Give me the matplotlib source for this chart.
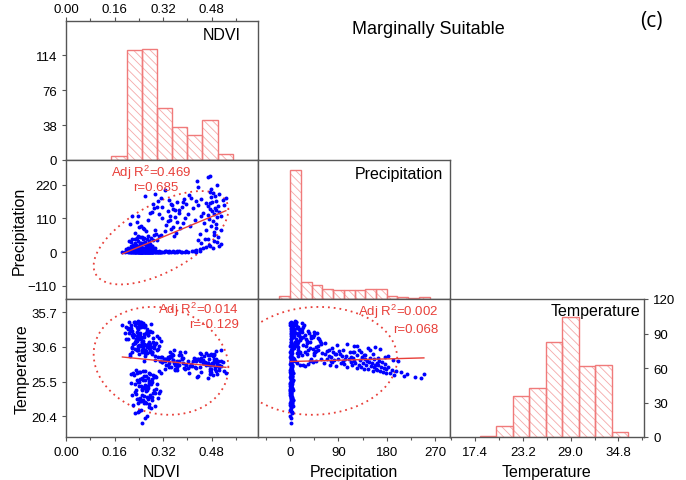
import numpy as np
import matplotlib
matplotlib.use("Agg")
import matplotlib.pyplot as plt
from matplotlib.ticker import AutoMinorLocator, FormatStrFormatter

plt.rcParams['font.family'] = ['Liberation Sans', 'DejaVu Sans']
plt.rcParams['hatch.linewidth'] = 0.6

# ---- histogram data ----
ndvi_edges = [0.15, 0.20, 0.25, 0.30, 0.35, 0.40, 0.45, 0.50, 0.55]
ndvi_counts = [4, 119, 121, 57, 36, 27, 43, 7]

precip_edges = [-20, 0, 20, 40, 60, 80, 100, 120, 140, 160, 180, 200, 220, 240, 260]
precip_counts = [6, 234, 31, 25, 18, 16, 16, 17, 18, 18, 6, 4, 2, 3]

temp_edges = [18, 20, 22, 24, 26, 28, 30, 32, 34, 36]
temp_counts = [1, 10, 36, 43, 83, 104, 62, 63, 4]

# ---- scatter data, one entry per sample (ndvi, precipitation, temperature) ----
# no rain, cool sites
dry_cool_ndvi = [0.252, 0.268, 0.237, 0.281, 0.229, 0.274, 0.246, 0.259, 0.293, 0.241,
                 0.263, 0.248, 0.222, 0.271, 0.285, 0.236, 0.277, 0.254, 0.302, 0.231,
                 0.266, 0.243, 0.288, 0.257, 0.272, 0.295, 0.233, 0.261, 0.249, 0.239,
                 0.276, 0.264, 0.283, 0.218, 0.251, 0.306, 0.244, 0.270, 0.258, 0.291,
                 0.247, 0.232, 0.279, 0.262, 0.240, 0.268, 0.255, 0.309, 0.226, 0.265,
                 0.284, 0.245, 0.256, 0.273, 0.297, 0.235, 0.260, 0.250, 0.280, 0.242,
                 0.215, 0.270, 0.261, 0.301, 0.253, 0.228, 0.282, 0.238, 0.267, 0.275,
                 0.289, 0.224, 0.249, 0.312, 0.243, 0.264, 0.278, 0.234, 0.271, 0.257,
                 0.213, 0.298, 0.241, 0.262, 0.286, 0.221, 0.254, 0.292, 0.273, 0.231]
dry_cool_precip = [1.2, 0.4, 2.6, 0.9, 3.8, 1.5, 0.2, 2.1, 4.5, 0.7,
                   2.9, 1.1, 0.5, 3.3, 1.8, 0.3, 2.4, 5.2, 1.0, 0.6,
                   3.6, 1.4, 0.8, 2.2, 4.1, 0.1, 1.9, 2.7, 0.5, 3.0,
                   1.6, 0.9, 4.8, 2.3, 0.4, 1.3, 3.4, 0.7, 2.0, 5.6,
                   0.2, 2.8, 1.1, 3.9, 0.6, 1.7, 4.3, 0.3, 2.5, 1.2,
                   3.1, 0.8, 1.9, 0.4, 2.6, 4.6, 1.0, 0.5, 3.5, 2.2,
                   0.9, 1.4, 5.0, 0.3, 2.9, 1.6, 0.7, 3.7, 2.0, 1.1,
                   4.2, 0.6, 2.4, 1.3, 0.2, 3.2, 1.8, 5.4, 0.8, 2.7,
                   1.5, 0.4, 3.0, 2.1, 0.9, 4.4, 1.2, 0.6, 2.3, 3.6]
dry_cool_temp = [19.4, 20.5, 21.1, 21.6, 20.9, 21.8, 21.4, 20.2, 21.9, 21.2,
                 22.3, 22.6, 22.1, 22.9, 23.2, 22.4, 23.5, 22.8, 23.1, 23.7,
                 23.3, 22.7, 23.9, 23.4, 22.2, 23.8, 23.0, 22.5, 23.6, 22.9,
                 23.2, 24.1, 22.8, 23.5, 24.4, 23.9, 23.1, 24.6, 22.4, 24.2,
                 24.8, 24.3, 25.1, 24.5, 25.4, 24.9, 25.7, 24.1, 25.2, 24.6,
                 25.5, 25.9, 24.7, 25.3, 24.4, 25.8, 25.0, 24.2, 25.6, 24.9,
                 25.3, 24.8, 25.7, 25.1, 24.5, 24.0, 25.9, 25.4, 24.3, 25.6,
                 26.2, 26.5, 26.1, 26.7, 26.9, 26.3, 26.6, 26.8, 26.0, 26.4,
                 26.6, 26.2, 26.9, 27.1, 26.5, 26.8, 27.0, 26.3, 26.7, 27.2]

# no rain, greener sites
dry_mid_ndvi = [0.318, 0.335, 0.352, 0.304, 0.367, 0.341, 0.382, 0.326, 0.397, 0.311,
                0.358, 0.414, 0.346, 0.373, 0.429, 0.322, 0.391, 0.338, 0.365, 0.442,
                0.308, 0.356, 0.403, 0.331, 0.378]
dry_mid_precip = [1.4, 0.6, 2.8, 0.3, 3.5, 1.9, 0.8, 2.2, 4.0, 1.1,
                  0.5, 2.6, 1.7, 3.2, 0.9, 2.0, 1.3, 4.6, 0.4, 2.4,
                  3.0, 1.5, 0.7, 2.9, 1.8]
dry_mid_temp = [28.4, 27.9, 28.7, 29.1, 27.6, 28.2, 28.9, 27.4, 28.0, 28.6,
                27.2, 27.8, 29.3, 28.5, 27.5, 28.8, 27.3, 29.0, 28.1, 27.7,
                27.0, 28.3, 28.6, 27.9, 29.4]

# no rain, warm sites
dry_warm_ndvi = [0.212, 0.236, 0.254, 0.198, 0.227, 0.263, 0.245, 0.218, 0.272, 0.231,
                 0.186, 0.249, 0.221, 0.258, 0.239, 0.205, 0.268, 0.226, 0.243, 0.284,
                 0.215, 0.252, 0.233, 0.194, 0.261, 0.241, 0.277, 0.224, 0.247, 0.209]
dry_warm_precip = [0.8, 2.1, 0.4, 3.3, 1.5, 2.7, 0.6, 1.9, 3.8, 1.2,
                   0.3, 2.4, 1.0, 3.1, 0.7, 1.7, 2.9, 0.5, 4.2, 1.4,
                   2.2, 0.9, 3.6, 1.1, 0.2, 2.6, 1.6, 3.0, 0.8, 1.3]
dry_warm_temp = [29.3, 30.1, 30.8, 33.6, 31.4, 29.7, 32.2, 32.9, 30.4, 31.7,
                 33.9, 29.9, 32.5, 31.1, 33.2, 31.8, 30.6, 34.1, 32.0, 29.5,
                 33.4, 31.3, 30.2, 32.7, 29.8, 33.7, 31.0, 32.3, 30.9, 34.2]

# light rain, warm sites
light_ndvi = [0.228, 0.245, 0.263, 0.211, 0.252, 0.237, 0.276, 0.219, 0.258, 0.241,
              0.199, 0.268, 0.233, 0.284, 0.247, 0.222, 0.261, 0.239, 0.291, 0.214,
              0.255, 0.231, 0.272, 0.205, 0.249, 0.266, 0.226, 0.243, 0.288, 0.235,
              0.258, 0.217, 0.279, 0.246, 0.203, 0.262, 0.238, 0.251, 0.295, 0.224,
              0.269, 0.242, 0.213, 0.257, 0.234,
              0.248, 0.271, 0.226, 0.259, 0.236, 0.283, 0.244, 0.215, 0.265, 0.301,
              0.232, 0.254, 0.278, 0.209, 0.246, 0.287, 0.239, 0.262, 0.221, 0.274,
              0.253, 0.281, 0.237, 0.266, 0.298, 0.244, 0.229, 0.312, 0.258, 0.271,
              0.218, 0.289, 0.249, 0.305, 0.234]
light_precip = [5.2, 8.4, 11.7, 6.3, 14.8, 9.1, 17.5, 7.6, 12.9, 4.8,
                10.3, 15.6, 6.9, 19.2, 8.8, 13.4, 5.7, 16.3, 9.8, 11.1,
                7.2, 18.4, 4.5, 12.2, 14.1, 6.6, 10.8, 17.9, 8.1, 13.7,
                5.9, 15.1, 9.4, 19.7, 7.9, 11.9, 16.8, 6.1, 12.6, 10.1,
                14.4, 8.6, 18.8, 5.4, 13.1,
                23.4, 27.8, 31.5, 25.2, 36.1, 21.7, 29.4, 33.8, 24.6, 38.2,
                22.5, 30.7, 26.9, 35.3, 28.6, 39.4, 21.3, 32.6, 24.1, 37.0,
                42.8, 47.5, 53.1, 44.6, 58.2, 49.3, 41.7, 55.6, 46.2, 51.4,
                43.9, 57.0, 48.7, 52.5, 45.1]
light_temp = [33.8, 34.2, 32.6, 33.1, 31.4, 34.4, 32.9, 30.5, 33.5, 34.0,
              31.8, 33.3, 32.2, 29.9, 34.3, 31.1, 33.7, 32.4, 30.8, 33.9,
              34.1, 31.6, 32.8, 33.4, 30.2, 33.0, 34.2, 32.0, 31.3, 33.6,
              32.5, 30.6, 34.0, 31.9, 33.2, 29.7, 32.7, 33.8, 31.0, 34.3,
              32.3, 30.9, 33.1, 32.1, 31.5,
              33.6, 32.4, 31.2, 33.9, 30.4, 32.8, 31.7, 33.0, 30.9, 32.2,
              34.1, 31.5, 29.8, 32.6, 30.7, 31.9, 33.3, 30.1, 32.0, 31.3,
              32.1, 30.6, 31.8, 29.7, 31.2, 32.6, 30.3, 31.5, 29.9, 30.8,
              32.4, 31.0, 30.0, 31.9, 32.8]

# light rain, green sites
green_light_ndvi = [0.428, 0.452, 0.476, 0.441, 0.497, 0.463, 0.512, 0.435, 0.484, 0.458,
                    0.471, 0.446, 0.503, 0.422, 0.489]
green_light_precip = [6.8, 12.4, 21.7, 9.5, 33.2, 16.1, 27.9, 38.6, 14.3, 42.5,
                      24.8, 31.4, 18.6, 4.9, 36.7]
green_light_temp = [28.9, 28.3, 29.4, 28.6, 28.1, 29.7, 27.8, 28.8, 29.2, 28.4,
                    27.9, 29.5, 28.0, 29.0, 28.5]

# wetter, sparse vegetation
wet_sparse_ndvi = [0.226, 0.254, 0.212, 0.271, 0.238, 0.295, 0.247, 0.282, 0.234, 0.318,
                   0.291, 0.265, 0.241, 0.305, 0.288, 0.336, 0.216, 0.352, 0.258, 0.302,
                   0.276, 0.312, 0.348, 0.294, 0.371, 0.259, 0.327, 0.385, 0.301, 0.342]
wet_sparse_precip = [64.2, 78.5, 92.1, 105.7, 118.3, 71.6, 86.9, 132.4, 97.8, 112.5,
                     145.2, 68.3, 83.7, 124.6, 158.1, 101.4, 116.9, 139.8, 75.2, 167.3,
                     128.5, 176.2, 154.8, 191.3, 137.6, 182.4, 201.7, 163.9, 148.2, 119.5]
wet_sparse_temp = [31.2, 30.4, 29.6, 31.1, 30.8, 29.3, 30.9, 29.8, 30.2, 29.1,
                   30.5, 30.0, 29.5, 30.7, 30.6, 28.8, 29.9, 29.4, 28.6, 30.3,
                   30.2, 29.1, 29.6, 28.7, 29.4, 29.3, 28.5, 29.0, 30.1, 29.8]

# wetter, green sites
wet_green_ndvi = [0.468, 0.502, 0.356, 0.489, 0.441,
                  0.364, 0.487, 0.327, 0.511, 0.462, 0.345, 0.495, 0.376,
                  0.352, 0.478, 0.409, 0.331, 0.493, 0.386, 0.455, 0.367,
                  0.484, 0.342, 0.426, 0.471, 0.391, 0.498, 0.358, 0.446, 0.512,
                  0.467, 0.403, 0.489, 0.374, 0.452, 0.505, 0.337, 0.481, 0.361, 0.494,
                  0.476, 0.418, 0.491, 0.318, 0.383, 0.502, 0.469, 0.521, 0.434, 0.346, 0.397, 0.475,
                  0.463, 0.365, 0.482, 0.429, 0.495, 0.338, 0.518, 0.446, 0.389, 0.413, 0.527, 0.478,
                  0.492, 0.406, 0.503, 0.485, 0.474,
                  0.479, 0.436, 0.497,
                  0.431,
                  0.468, 0.476]
wet_green_precip = [44.5, 48.9, 52.3, 56.8, 59.1,
                    62.4, 65.7, 68.2, 71.9, 73.5, 76.8, 78.1, 79.6,
                    81.3, 84.7, 86.2, 89.5, 91.8, 94.3, 96.7, 98.9,
                    101.2, 103.8, 106.4, 109.1, 111.7, 113.5, 115.9, 117.2, 119.6,
                    121.4, 123.9, 125.3, 127.8, 129.5, 131.6, 133.2, 135.8, 137.4, 139.1,
                    141.3, 142.8, 144.6, 146.2, 148.9, 150.5, 152.1, 153.7, 155.4, 156.9, 158.3, 159.6,
                    161.2, 162.7, 164.5, 166.1, 168.4, 170.2, 171.8, 173.5, 175.1, 176.6, 178.3, 179.4,
                    182.6, 186.3, 189.7, 193.2, 197.5,
                    205.8, 211.4, 217.9,
                    232.6,
                    244.1, 249.3]
wet_green_temp = [29.4, 28.6, 30.1, 28.9, 29.7,
                  28.3, 29.5, 28.8, 30.2, 27.9, 29.1, 28.4, 29.8,
                  28.7, 29.6, 27.8, 28.9, 30.0, 28.2, 29.3, 28.5,
                  28.1, 29.2, 27.6, 28.8, 29.9, 28.4, 27.9, 29.0, 28.6,
                  28.3, 27.5, 29.4, 28.0, 28.7, 27.7, 29.1, 28.2, 27.4, 28.9,
                  27.9, 28.6, 27.3, 28.4, 29.0, 27.8, 28.2, 27.1, 28.8, 27.6, 28.0, 27.4,
                  28.3, 27.2, 27.9, 28.6, 27.0, 27.7, 28.4, 26.9, 27.5, 28.1, 26.8, 27.3,
                  27.6, 26.7, 27.2, 26.5, 27.0,
                  26.9, 26.3, 26.6,
                  26.2,
                  26.1, 26.6]

ndvi = np.concatenate([dry_cool_ndvi, dry_mid_ndvi, dry_warm_ndvi, light_ndvi,
                       green_light_ndvi, wet_sparse_ndvi, wet_green_ndvi])
precip = np.concatenate([dry_cool_precip, dry_mid_precip, dry_warm_precip, light_precip,
                         green_light_precip, wet_sparse_precip, wet_green_precip])
temp = np.concatenate([dry_cool_temp, dry_mid_temp, dry_warm_temp, light_temp,
                       green_light_temp, wet_sparse_temp, wet_green_temp])

RED = '#e8403a'
EDGE = '#f07a7a'
HATCH = '#f5a9a9'
SPINE = '#555555'

ndvi_lim = (0, 0.633)
precip_lim = (-60, 298)
temp_lim = (17.36, 37.65)


def style(ax):
    for s in ax.spines.values():
        s.set_color(SPINE)
        s.set_linewidth(1)
    ax.tick_params(direction='out', length=3, width=0.8, color=SPINE, labelsize=9.5)
    ax.tick_params(which='minor', direction='out', length=2, width=0.8, color=SPINE)


def draw_hist(ax, edges, counts):
    edges = np.array(edges)
    w = edges[1] - edges[0]
    ax.bar(edges[:-1], counts, width=w, align='edge', color='white',
           edgecolor=HATCH, hatch='\\\\\\\\', linewidth=0)
    ax.bar(edges[:-1], counts, width=w, align='edge', fill=False,
           edgecolor=EDGE, linewidth=1)


def draw_scatter(ax, x, y):
    ax.scatter(x, y, s=8, color='blue', linewidths=0, zorder=3)
    slope, icpt = np.polyfit(x, y, 1)
    xs = np.array([x.min(), x.max()])
    ax.plot(xs, slope * xs + icpt, color=RED, lw=1, zorder=4)
    # 95% confidence ellipse
    cov = np.cov(x, y)
    L = np.linalg.cholesky(cov)
    t = np.linspace(0, 2 * np.pi, 200)
    k = np.sqrt(5.991)
    pts = k * L @ np.vstack([np.cos(t), np.sin(t)])
    ax.plot(x.mean() + pts[0], y.mean() + pts[1], color=RED, lw=1.3,
            ls=(0, (1, 2.2)), zorder=2)


fig = plt.figure(figsize=(6.86, 4.81), dpi=100)

col_l = [66 / 686, 258 / 686, 450 / 686]
col_w = [192 / 686, 192 / 686, 194 / 686]
row_b = [1 - 161 / 481, 1 - 300 / 481, 1 - 438 / 481]
row_h = [139 / 481, 139 / 481, 138 / 481]

ax_n = fig.add_axes([col_l[0], row_b[0], col_w[0], row_h[0]])
ax_np = fig.add_axes([col_l[0], row_b[1], col_w[0], row_h[1]])
ax_p = fig.add_axes([col_l[1], row_b[1], col_w[1], row_h[1]])
ax_nt = fig.add_axes([col_l[0], row_b[2], col_w[0], row_h[2]])
ax_pt = fig.add_axes([col_l[1], row_b[2], col_w[1], row_h[2]])
ax_t = fig.add_axes([col_l[2], row_b[2], col_w[2], row_h[2]])

for ax in [ax_n, ax_np, ax_p, ax_nt, ax_pt, ax_t]:
    style(ax)

# NDVI histogram
draw_hist(ax_n, ndvi_edges, ndvi_counts)
ax_n.set_xlim(ndvi_lim)
ax_n.set_ylim(0, 151)
ax_n.xaxis.tick_top()
ax_n.tick_params(axis='x', pad=1.5)
ax_n.set_xticks([0, 0.16, 0.32, 0.48])
ax_n.xaxis.set_major_formatter(FormatStrFormatter('%.2f'))
ax_n.xaxis.set_minor_locator(AutoMinorLocator(2))
ax_n.set_yticks([0, 38, 76, 114])
ax_n.text(0.91, 0.906, 'NDVI', transform=ax_n.transAxes, ha='right', va='center', fontsize=11.5)

# NDVI vs precipitation
draw_scatter(ax_np, ndvi, precip)
ax_np.set_xlim(ndvi_lim)
ax_np.set_ylim(-153, 301)
ax_np.set_xticks([])
ax_np.set_yticks([-110, 0, 110, 220])
ax_np.set_ylabel('Precipitation', fontsize=11.5, labelpad=1)
ax_np.text(0.445, 0.917, 'Adj R$^\\mathregular{2}$=0.469', transform=ax_np.transAxes,
           ha='center', va='center', color=RED, fontsize=9.5)
ax_np.text(0.469, 0.806, 'r=0.685', transform=ax_np.transAxes,
           ha='center', va='center', color=RED, fontsize=9.5)

# precipitation histogram
draw_hist(ax_p, precip_edges, precip_counts)
ax_p.set_xlim(precip_lim)
ax_p.set_ylim(0, 252)
ax_p.set_xticks([])
ax_p.set_yticks([])
ax_p.text(0.964, 0.90, 'Precipitation', transform=ax_p.transAxes, ha='right', va='center', fontsize=11.5)

# NDVI vs temperature
draw_scatter(ax_nt, ndvi, temp)
ax_nt.set_xlim(ndvi_lim)
ax_nt.set_ylim(temp_lim)
ax_nt.set_xticks([0, 0.16, 0.32, 0.48])
ax_nt.xaxis.set_major_formatter(FormatStrFormatter('%.2f'))
ax_nt.xaxis.set_minor_locator(AutoMinorLocator(2))
ax_nt.set_yticks([20.4, 25.5, 30.6, 35.7])
ax_nt.yaxis.set_major_formatter(FormatStrFormatter('%.1f'))
ax_nt.set_xlabel('NDVI', fontsize=11.5)
ax_nt.set_ylabel('Temperature', fontsize=11.5, labelpad=1)
ax_nt.text(0.901, 0.928, 'Adj R$^\\mathregular{2}$=0.014', transform=ax_nt.transAxes,
           ha='right', va='center', color=RED, fontsize=9.5)
ax_nt.text(0.901, 0.819, 'r=-0.129', transform=ax_nt.transAxes,
           ha='right', va='center', color=RED, fontsize=9.5)

# precipitation vs temperature
draw_scatter(ax_pt, precip, temp)
ax_pt.set_xlim(precip_lim)
ax_pt.set_ylim(temp_lim)
ax_pt.set_xticks([0, 90, 180, 270])
ax_pt.xaxis.set_minor_locator(AutoMinorLocator(2))
ax_pt.set_yticks([])
ax_pt.set_xlabel('Precipitation', fontsize=11.5)
ax_pt.text(0.9375, 0.917, 'Adj R$^\\mathregular{2}$=0.002', transform=ax_pt.transAxes,
           ha='right', va='center', color=RED, fontsize=9.5)
ax_pt.text(0.9375, 0.783, 'r=0.068', transform=ax_pt.transAxes,
           ha='right', va='center', color=RED, fontsize=9.5)

# temperature histogram
draw_hist(ax_t, temp_edges, temp_counts)
ax_t.set_xlim(14.37, 37.9)
ax_t.set_ylim(0, 120)
ax_t.set_xticks([17.4, 23.2, 29.0, 34.8])
ax_t.xaxis.set_major_formatter(FormatStrFormatter('%.1f'))
ax_t.xaxis.set_minor_locator(AutoMinorLocator(2))
ax_t.yaxis.tick_right()
ax_t.set_yticks([0, 30, 60, 90, 120])
ax_t.set_xlabel('Temperature', fontsize=11.5)
ax_t.text(0.979, 0.92, 'Temperature', transform=ax_t.transAxes, ha='right', va='center', fontsize=11.5)

fig.text(428 / 686, 1 - 30 / 481, 'Marginally Suitable', ha='center', va='center', fontsize=13)
fig.text(651 / 686, 1 - 22 / 481, '(c)', ha='center', va='center', fontsize=15,
         family=['Open Sans', 'DejaVu Sans'])

fig.savefig('out.png', dpi=100)
